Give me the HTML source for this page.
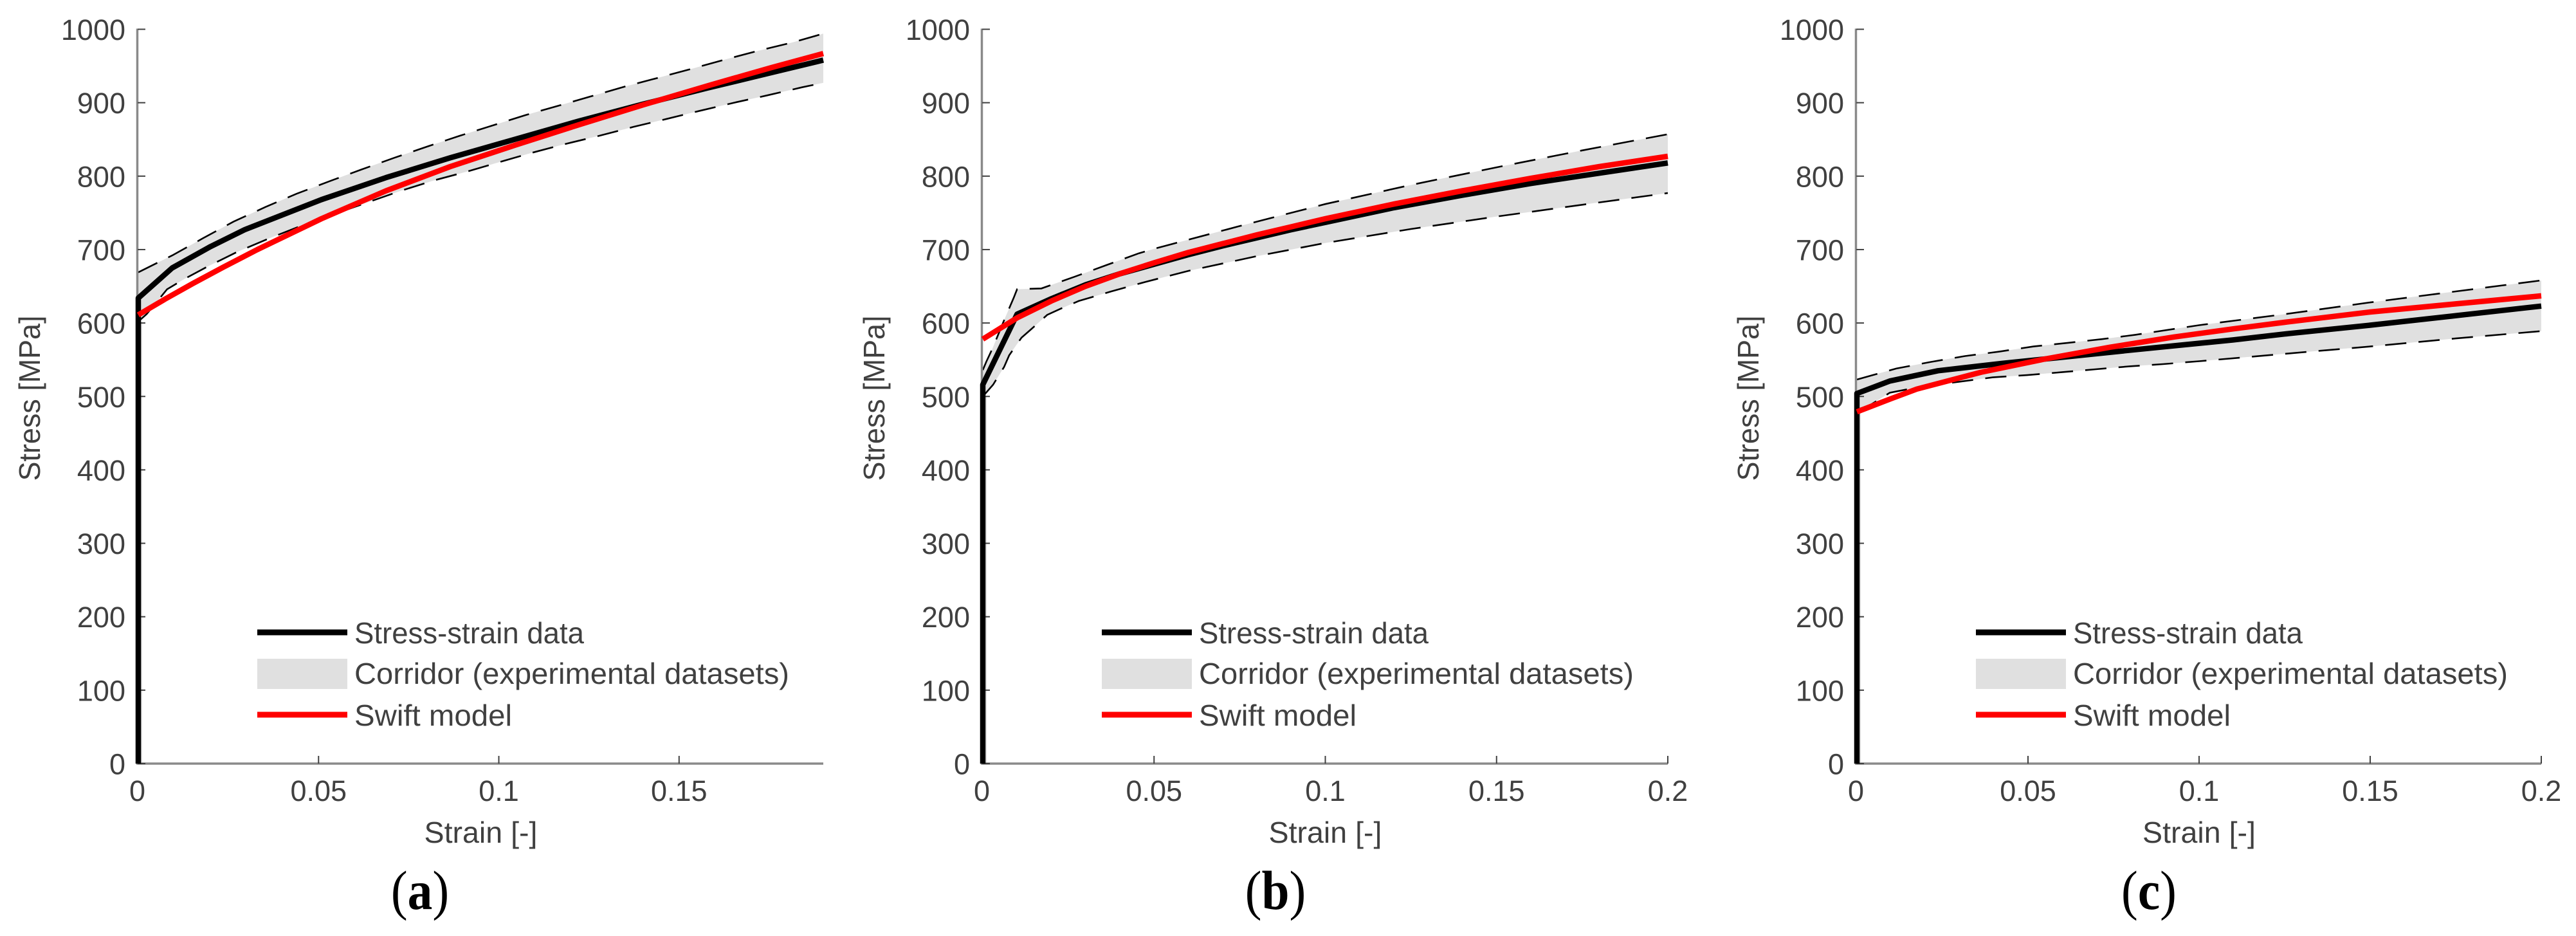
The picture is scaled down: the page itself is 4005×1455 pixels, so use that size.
<!DOCTYPE html>
<html lang="en">
<head>
<meta charset="utf-8">
<title>Stress-strain curves</title>
<style>
html,body{margin:0;padding:0;background:#fff;width:4005px;height:1455px;overflow:hidden}
svg{display:block}
text{font-family:"Liberation Sans",Arial,sans-serif;fill:#404040}
.cap,.cap tspan{font-family:"Liberation Serif","Times New Roman",serif;fill:#000}
</style>
</head>
<body>
<svg id="figure" xmlns="http://www.w3.org/2000/svg" width="4005" height="1455" viewBox="0 0 4005 1455"></svg>
<script>
const yTickValues = [0,100,200,300,400,500,600,700,800,900,1000];
const xTickValuesA = [0,0.05,0.1,0.15];
const xTickLabelsA = ['0','0.05','0.1','0.15'];
const xTickValuesB = [0,0.05,0.1,0.15,0.2];
const xTickLabelsB = ['0','0.05','0.1','0.15','0.2'];
const legendLabels = ['Stress-strain data','Corridor (experimental datasets)','Swift model'];

const aDataStrain = [0,0,0.0094,0.02,0.0295,0.0508,0.0687,0.0865,0.1044,0.1222,0.14,0.1579,0.1757,0.19];
const aDataStress = [0,634,675,704,727,768,798,825,850,875,898,920,941,958];
const aModelStrain = [0,0.0076,0.0152,0.0236,0.033,0.0508,0.0687,0.0865,0.1044,0.1222,0.14,0.1579,0.1757,0.19];
const aModelStress = [611,633,654,676,700,742,780,813,842,870,897,923,948,967];
const aUpperStrain = [0,0.0016,0.0094,0.0178,0.0264,0.0353,0.0439,0.053,0.0619,0.071,0.08,0.0892,0.0983,0.1073,0.1166,0.1258,0.135,0.1443,0.1534,0.1629,0.1722,0.1814,0.19];
const aUpperStress = [669,673,692,715,738,758,776,793,809,825,840,855,869,883,896,909,922,934,946,959,971,982,994];
const aLowerStrain = [0,0.0023,0.008,0.0128,0.0189,0.0275,0.0362,0.0455,0.06,0.0728,0.0819,0.091,0.1001,0.1093,0.1186,0.1279,0.1373,0.1466,0.1558,0.1653,0.1745,0.1841,0.19];
const aLowerStress = [602,612,646,660,676,697,715,733,758,780,794,806,819,832,844,855,867,878,889,900,910,921,927];

const bDataStrain = [0,0,0.01,0.02,0.03,0.04,0.05,0.06,0.07,0.08,0.09,0.1,0.12,0.14,0.16,0.18,0.2];
const bDataStress = [0,516,612,633,652,667,680,693,705,716,727,737,757,774,790,804,818];
const bModelStrain = [0,0.01,0.02,0.03,0.04,0.05,0.06,0.07,0.08,0.09,0.1,0.12,0.14,0.16,0.18,0.2];
const bModelStress = [578,607,630,650,667,682,696,708,720,731,742,762,780,797,813,827];
const bUpperStrain = [0,0.001,0.0028,0.0066,0.009,0.01,0.0171,0.0268,0.0362,0.0456,0.05,0.075,0.1,0.125,0.15,0.175,0.2];
const bUpperStress = [536,547,565,608,634,646,647,663,679,695,701,732,762,788,812,835,857];
const bLowerStrain = [0,0.003,0.0062,0.0077,0.0113,0.014,0.0188,0.0225,0.028,0.0375,0.0475,0.06,0.08,0.1,0.125,0.15,0.175,0.2];
const bLowerStress = [500,516,540,556,580,591,611,619,630,643,656,671,691,709,728,745,761,777];

const cDataStrain = [0,0,0.0096,0.0237,0.0425,0.0613,0.08,0.0927,0.11,0.125,0.15,0.175,0.2];
const cDataStress = [0,504,521,535,545,554,563,569,577,585,597,610,623];
const cModelStrain = [0,0.01,0.0175,0.0363,0.055,0.0739,0.0927,0.11,0.125,0.15,0.175,0.2];
const cModelStress = [479,497,510,533,551,567,581,592,601,615,626,637];
const cUpperStrain = [0,0.0046,0.0115,0.0216,0.0316,0.0416,0.0516,0.0617,0.0716,0.0814,0.1,0.125,0.15,0.175,0.2];
const cUpperStress = [523,529,538,547,555,561,568,573,578,584,597,612,628,643,658];
const cLowerStrain = [0,0.0038,0.0096,0.0184,0.0397,0.0498,0.0598,0.0698,0.0798,0.0895,0.1,0.125,0.15,0.175,0.2];
const cLowerStress = [482,488,505,513,526,529,533,537,541,544,548,558,568,579,589];

const Y_TOP = 45.5, Y_BOTTOM = 1187, NS = 'http://www.w3.org/2000/svg';
const figure = document.getElementById('figure');

function make(parent, tag, attrs, content) {
  const el = document.createElementNS(NS, tag);
  for (const k in attrs) el.setAttribute(k, attrs[k]);
  if (content !== undefined) el.textContent = content;
  parent.appendChild(el);
  return el;
}
function pts(xs, ys, sx, sy) {
  return xs.map(function (x, i) { return sx(x).toFixed(1) + ',' + sy(ys[i]).toFixed(1); });
}

function drawPanel(p) {
  const sx = function (v) { return p.x0 + (v / p.xMax) * (p.x1 - p.x0); };
  const sy = function (v) { return Y_BOTTOM - (v / 1000) * (Y_BOTTOM - Y_TOP); };
  const g = make(figure, 'g', {});
  
  

  // corridor band
  const upper = pts(p.upperX, p.upperY, sx, sy);
  const lower = pts(p.lowerX, p.lowerY, sx, sy).reverse();
  const band = make(g, 'polygon', {points: upper.concat(lower).join(' '), fill: '#e0e0e0'});
  
  
  const halo = make(g, 'line', {x1: p.x0 + 4, x2: p.x0 + 4, y1: sy(0), y2: sy(p.lowerY[0]), stroke: '#e0e0e0', 'stroke-width': 4});
  
  

  // corridor bounds
  const upperLine = make(g, 'polyline', {points: upper.join(' '), fill: 'none', stroke: '#000', 'stroke-width': 2.6, 'stroke-dasharray': '33 19'});
  
  
  const lowerLine = make(g, 'polyline', {points: pts(p.lowerX, p.lowerY, sx, sy).join(' '), fill: 'none', stroke: '#000', 'stroke-width': 2.6, 'stroke-dasharray': '33 19'});
  
  

  // axes
  const xAxis = make(g, 'line', {x1: p.x0 - 3, x2: p.x1, y1: Y_BOTTOM, y2: Y_BOTTOM, stroke: '#8a8a8a', 'stroke-width': 3.5});
  
  
  const yAxis = make(g, 'line', {x1: p.x0 - 1.5, x2: p.x0 - 1.5, y1: Y_TOP - 1, y2: Y_BOTTOM + 1.5, stroke: '#8a8a8a', 'stroke-width': 3.5});
  
  

  yTickValues.forEach(function (v) {
    const t = make(g, 'line', {x1: p.x0 - 1, x2: p.x0 + 11, y1: sy(v), y2: sy(v), stroke: '#404040', 'stroke-width': 2});
    
    
    const l = make(g, 'text', {x: p.x0 - 20, y: sy(v) + 16.5, 'text-anchor': 'end', 'font-size': 45}, String(v));
    
    
  });
  p.xTicks.forEach(function (v, i) {
    const t = make(g, 'line', {x1: sx(v), x2: sx(v), y1: Y_BOTTOM, y2: Y_BOTTOM - 12, stroke: '#404040', 'stroke-width': 2});
    
    
    const l = make(g, 'text', {x: sx(v) - (v === 0 ? 1.5 : 0), y: 1245, 'text-anchor': 'middle', 'font-size': 45}, p.xLabels[i]);
    
    
  });

  // series
  const data = make(g, 'polyline', {points: pts(p.dataX, p.dataY, sx, sy).join(' '), fill: 'none', stroke: '#000', 'stroke-width': 8.5, 'stroke-linejoin': 'round'});
  
  
  const model = make(g, 'polyline', {points: pts(p.modelX, p.modelY, sx, sy).join(' '), fill: 'none', stroke: '#ff0000', 'stroke-width': 8.5, 'stroke-linejoin': 'round'});
  
  

  // axis titles
  const midX = (p.x0 + p.x1) / 2;
  const xTitle = make(g, 'text', {x: midX, y: 1310, 'text-anchor': 'middle', 'font-size': 46, textLength: 176, lengthAdjust: 'spacingAndGlyphs'}, 'Strain [-]');
  
  
  const ty = (p.x0 - 153);
  const yTitle = make(g, 'text', {x: 0, y: 0, transform: 'translate(' + ty + ' 619) rotate(-90)', 'text-anchor': 'middle', 'font-size': 46, textLength: 257, lengthAdjust: 'spacingAndGlyphs'}, 'Stress [MPa]');
  
  

  // legend
  const lx = p.x0 + 185;
  const leg = make(g, 'g', {});
  
  
  const k1 = make(leg, 'rect', {x: lx, y: 978.5, width: 140, height: 9, fill: '#000'});
  
  
  const k2 = make(leg, 'rect', {x: lx, y: 1024, width: 140, height: 47, fill: '#e0e0e0'});
  
  
  const k3 = make(leg, 'rect', {x: lx, y: 1106.5, width: 140, height: 9, fill: '#ff0000'});
  
  
  const widths = [357, 676, 245], bases = [1000, 1063, 1128];
  legendLabels.forEach(function (txt, i) {
    const t = make(leg, 'text', {x: lx + 151, y: bases[i], 'font-size': 46, textLength: widths[i], lengthAdjust: 'spacingAndGlyphs'}, txt);
    
    
  });

  // caption
  const cap = make(g, 'text', {class: 'cap', x: 0, y: 0, transform: 'translate(' + p.capX + ' 1413) scale(0.9 1)', 'text-anchor': 'middle', 'font-size': 86});
  
  
  make(cap, 'tspan', {}, '(');
  make(cap, 'tspan', {'font-weight': 'bold'}, p.id);
  make(cap, 'tspan', {}, ')');
}

drawPanel({id: 'a', x0: 215, x1: 1280, xMax: 0.19, capX: 653, xTicks: xTickValuesA, xLabels: xTickLabelsA,
  dataX: aDataStrain, dataY: aDataStress, modelX: aModelStrain, modelY: aModelStress,
  upperX: aUpperStrain, upperY: aUpperStress, lowerX: aLowerStrain, lowerY: aLowerStress});
drawPanel({id: 'b', x0: 1528, x1: 2593, xMax: 0.2, capX: 1983, xTicks: xTickValuesB, xLabels: xTickLabelsB,
  dataX: bDataStrain, dataY: bDataStress, modelX: bModelStrain, modelY: bModelStress,
  upperX: bUpperStrain, upperY: bUpperStress, lowerX: bLowerStrain, lowerY: bLowerStress});
drawPanel({id: 'c', x0: 2887, x1: 3951, xMax: 0.2, capX: 3341, xTicks: xTickValuesB, xLabels: xTickLabelsB,
  dataX: cDataStrain, dataY: cDataStress, modelX: cModelStrain, modelY: cModelStress,
  upperX: cUpperStrain, upperY: cUpperStress, lowerX: cLowerStrain, lowerY: cLowerStress});
</script>
</body>
</html>
